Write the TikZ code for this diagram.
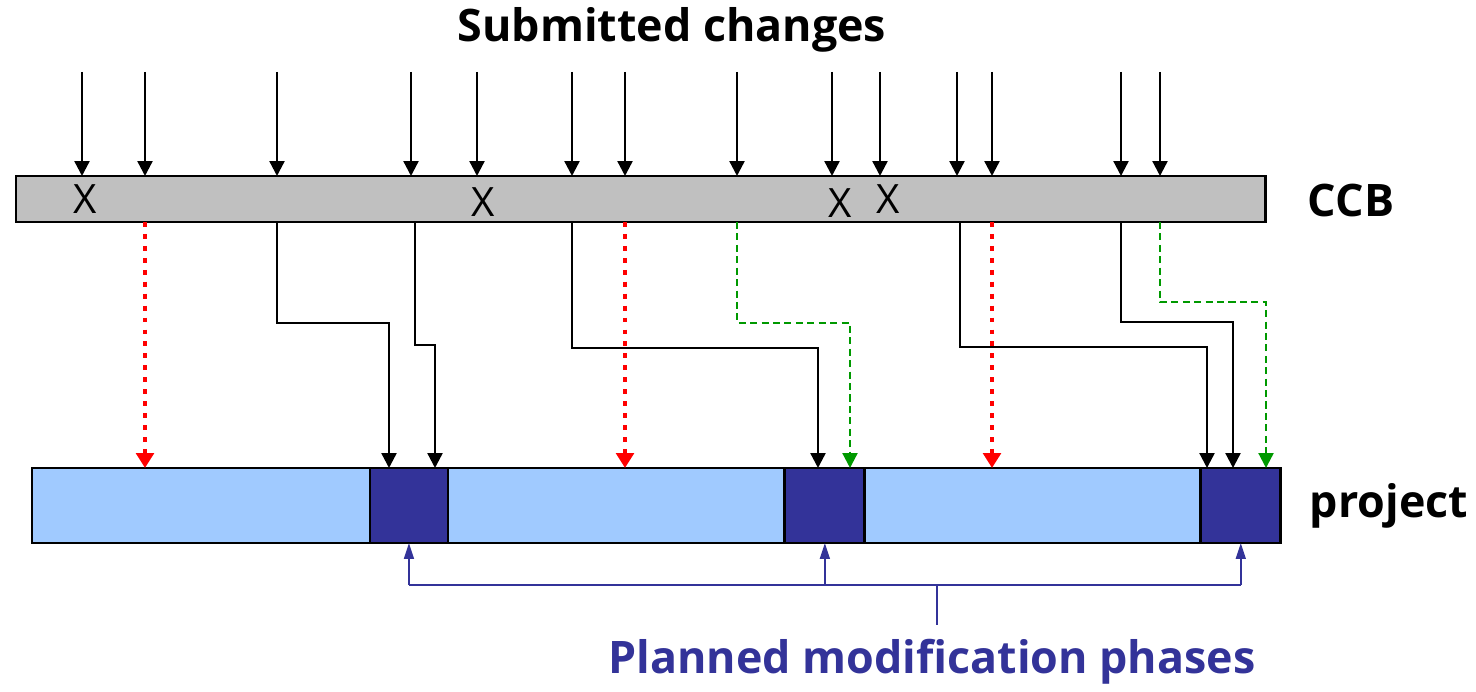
\documentclass[tikz,border=0pt]{standalone}
\usepackage{fontspec}
\setmainfont{Open Sans}
\usetikzlibrary{positioning,arrows.meta,calc}

\definecolor{ccbgray}{RGB}{192,192,192}
\definecolor{phaselight}{RGB}{160,202,255}
\definecolor{phasedark}{RGB}{51,51,153}
\definecolor{rejred}{RGB}{255,0,0}
\definecolor{latergreen}{RGB}{0,153,0}

\begin{document}
\begin{tikzpicture}[x=0.02cm,y=-0.02cm,
bar/.style={
  draw,
  line width=1.6pt,
  inner sep=0pt,
  outer sep=0pt},
light/.style={bar, fill=phaselight, minimum height=1.5cm},
dark/.style={bar, fill=phasedark, minimum height=1.5cm},
chg/.style={line width=1.35pt, -{Triangle[width=8.5pt,length=8.5pt]}},
rej/.style={rejred, line width=2.8pt, dash pattern=on 2.8pt off 4pt,
  -{Triangle[width=10pt,length=8.5pt]}},
late/.style={latergreen, line width=1.3pt, dash pattern=on 4pt off 2.5pt,
  -{Triangle[width=8.5pt,length=8.5pt]}},
plan/.style={phasedark, line width=1.3pt},
big/.style={font=\bfseries\fontsize{25.5}{30}\selectfont},
xmark/.style={font=\fontsize{23}{26}\selectfont, inner sep=0pt}
]
\useasboundingbox (0,0) rectangle (1476,692);
% the two bars
\node[bar, fill=ccbgray, minimum width=25cm, minimum height=0.92cm,
  anchor=north west] (ccb) at (16,176) {};
\node[light, minimum width=6.76cm, anchor=north west] (p1) at (32,468) {};
\node[dark, minimum width=1.56cm, right=0pt of p1] (m1) {};
\node[light, minimum width=6.74cm, right=0pt of m1] (p2) {};
\node[dark, minimum width=1.6cm, right=0pt of p2] (m2) {};
\node[light, minimum width=6.72cm, right=0pt of m2] (p3) {};
\node[dark, minimum width=1.6cm, right=0pt of p3] (m3) {};
% labels
\node[big] (title) at (672,30) {Submitted changes};
\node[big] (ccblabel) at (1351,200) {CCB};
\node[big] (projlabel) at (1389,506) {project};
\node[big, text=phasedark] (planlabel) at (932,662) {Planned modification phases};
% incoming changes
\foreach \x in {82,145,277,411,477,572,625,737,832,880,957,992,1121,1160}
  \draw[chg] (\x,72) -- (\x,0 |- ccb.north);
\foreach \x/\y [count=\i] in {85/199,483/202,840/203,888/199}
  \node[xmark] (rej\i) at (\x,\y) {X};
% rejected
\foreach \x/\ph in {145/p1,625/p2,992/p3}
  \draw[rej] (\x,0 |- ccb.south) -- (\x,0 |- \ph.north);
% accepted, into next phase
\foreach \x/\y/\t/\ph in {277/323/389/m1,415/345/435/m1,572/348/818/m2,
    960/347/1207/m3,1121/322/1233/m3}
  \draw[chg] (\x,0 |- ccb.south) |- (\t,\y) -- (\t,0 |- \ph.north);
% postponed
\foreach \x/\y/\t/\ph in {737/323/850/m2,1160/302/1266/m3}
  \draw[late] (\x,0 |- ccb.south) |- (\t,\y) -- (\t,0 |- \ph.north);
% phases bracket
\coordinate (join) at (937,585);
\draw[plan] (m1.south |- join) -- (m3.south |- join);
\foreach \ph in {m1,m2,m3}
  \draw[plan, -{Triangle[width=5.5pt,length=9pt]}] (\ph.south |- join) -- (\ph.south);
\draw[plan] (join) -- (937,625);
\end{tikzpicture}
\end{document}
